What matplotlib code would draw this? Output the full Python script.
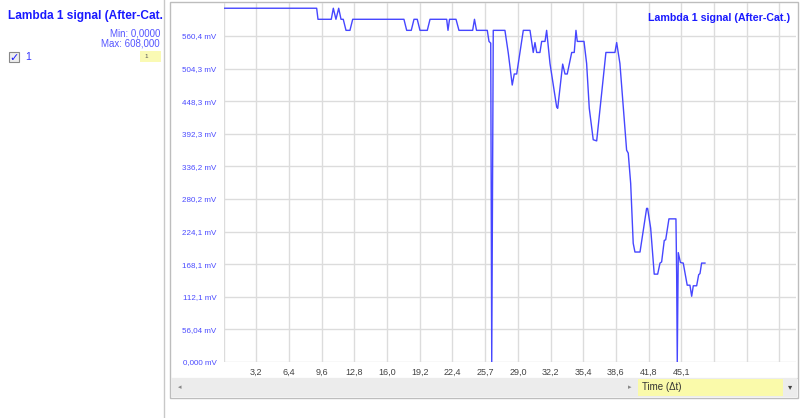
import matplotlib
matplotlib.use("Agg")
import matplotlib.pyplot as plt
from matplotlib.patches import Rectangle
from matplotlib.lines import Line2D

plt.rcParams['font.family'] = ['Liberation Sans', 'DejaVu Sans']

# ---- data (time in Δt units, signal in mV) ----
time = [0.00, 9.17, 9.30, 10.61, 10.81, 11.07, 11.34, 11.57, 11.79, 12.06, 12.45, 12.72,
        17.77, 18.04, 18.49, 18.76, 19.08, 19.35, 20.07, 20.34, 21.98, 22.11, 22.26, 22.90,
        23.19, 24.54, 24.72, 24.92, 25.98, 26.15, 26.32, 26.42, 26.57, 27.72, 28.05, 28.44,
        28.64, 28.88, 29.53, 30.19, 30.51, 30.68, 30.85, 31.17, 31.34, 31.67, 31.83, 32.16,
        32.82, 32.92, 33.41, 33.64, 33.86, 34.30, 34.55, 34.72, 34.85, 35.51, 35.77, 36.03,
        36.42, 36.76, 37.67, 38.56, 38.73, 39.05, 39.71, 39.87, 40.11, 40.36, 40.53, 41.03,
        41.68, 41.78, 42.08, 42.43, 42.77, 43.00, 43.16, 43.42, 43.56, 43.88, 44.57, 44.64,
        44.70, 44.80, 45.01, 45.29, 45.68, 45.95, 46.12, 46.28, 46.61, 46.81, 46.94, 47.10,
        47.43]
signal = [608, 608, 589, 589, 608, 589, 608, 589, 589, 570, 570, 589,
          589, 570, 570, 589, 589, 570, 570, 589, 589, 570, 589, 589,
          570, 570, 589, 570, 570, 551, 548, 0, 570, 570, 531, 476,
          495, 495, 570, 570, 532, 549, 532, 532, 551, 551, 570, 513,
          438, 436, 512, 495, 495, 532, 532, 570, 551, 551, 513, 436,
          382, 380, 532, 532, 549, 513, 364, 359, 307, 204, 189, 189,
          264, 264, 230, 151, 151, 170, 172, 209, 210, 246, 246, 153,
          0, 188, 171, 170, 132, 132, 113, 131, 131, 150, 152, 170,
          170]

y_tick_values = [0.0, 56.04, 112.08, 168.12, 224.16, 280.2, 336.24, 392.28, 448.32, 504.36, 560.4]
y_tick_labels = ["0,000 mV", "56,04 mV", "112,1 mV", "168,1 mV", "224,1 mV", "280,2 mV",
                 "336,2 mV", "392,3 mV", "448,3 mV", "504,3 mV", "560,4 mV"]
x_step = 3.2214
x_tick_labels = ["3,2", "6,4", "9,6", "12,8", "16,0", "19,2", "22,4", "25,7", "29,0",
                 "32,2", "35,4", "38,6", "41,8", "45,1", "", "", ""]

W, H = 800, 418
fig = plt.figure(figsize=(W / 100, H / 100), dpi=100)
fig.patch.set_facecolor("white")


def fx(x):
    return x / W


def fy(y):
    return 1 - y / H


def rect(x0, y0, x1, y1, fc, ec="none", lw=0.8, z=0):
    fig.patches.append(Rectangle((fx(x0), fy(y1)), fx(x1) - fx(x0), fy(y0) - fy(y1),
                                 transform=fig.transFigure, facecolor=fc, edgecolor=ec,
                                 linewidth=lw, zorder=z))


def hline(x0, x1, y, c, lw=1.0, z=1):
    fig.lines.append(Line2D([fx(x0), fx(x1)], [fy(y), fy(y)], transform=fig.transFigure,
                            color=c, linewidth=lw, zorder=z))


def vline(x, y0, y1, c, lw=1.0, z=1):
    fig.lines.append(Line2D([fx(x), fx(x)], [fy(y0), fy(y1)], transform=fig.transFigure,
                            color=c, linewidth=lw, zorder=z))


# ---- left panel ----
vline(164, 0, H, "#c8c8c8", 1.0)
fig.text(fx(8), fy(16), "Lambda 1 signal (After-Cat.", fontsize=8.6, fontweight="bold",
         color="#1a1aff", va="center", ha="left")
fig.text(fx(160), fy(33), "Min: 0,0000", fontsize=7, color="#5555ff", va="center", ha="right")
fig.text(fx(160), fy(44), "Max: 608,000", fontsize=7, color="#5555ff", va="center", ha="right")
rect(9, 52, 19, 62, "#eeeeee", "#888888", 0.8, 2)
fig.text(fx(14), fy(57.5), "✓", fontsize=8, color="#1a1aff", va="center", ha="center",
         family=['DejaVu Sans'], zorder=3)
fig.text(fx(25), fy(57), "1", fontsize=7.5, color="#3333ff", va="center", ha="left")
rect(140, 51, 161, 62, "#fafab4", "none", 0, 2)
fig.text(fx(144), fy(56), "1", fontsize=4.5, color="#555555", va="center", ha="left")

# ---- chart panel ----
rect(170, 2, 798, 398, "white", "#bdbdbd", 1.0, -5)
rect(171, 378, 797, 397, "#ececec", "none", 0, 1)
hline(171, 797, 378, "#d8d8d8", 0.8, 1)
fig.text(fx(180), fy(387), "◂", fontsize=5, color="#888888", va="center", ha="center",
         family=['DejaVu Sans'])
fig.text(fx(630), fy(387), "▸", fontsize=5, color="#888888", va="center", ha="center",
         family=['DejaVu Sans'])
rect(638, 379, 783, 396, "#fafaaa", "none", 0, 2)
fig.text(fx(642), fy(387.5), "Time (Δt)", fontsize=7, color="#333333", va="center",
         ha="left", zorder=3)
fig.text(fx(790), fy(387), "▾", fontsize=6, color="#444444", va="center", ha="center",
         family=['DejaVu Sans'])

ax = fig.add_axes([fx(223.6), fy(362), fx(796) - fx(223.6), fy(3) - fy(362)])
ax.set_zorder(2)
ax.set_facecolor("none")
ax.set_xlim(0, 56.4)
ax.set_ylim(0, 617)
for s in ax.spines.values():
    s.set_visible(False)

xt = [x_step * (i + 1) for i in range(len(x_tick_labels))]
ax.set_xticks(xt)
ax.set_xticklabels(x_tick_labels)
ax.set_yticks(y_tick_values)
ax.set_yticklabels(y_tick_labels)
ax.tick_params(axis="x", length=0, pad=4, labelsize=6.5, labelcolor="#444444")
ax.tick_params(axis="y", length=0, pad=5, labelsize=5.8, labelcolor="#4a4aff")
ax.grid(True, color="#dcdcdc", linewidth=1.0)
ax.axvline(0, color="#dcdcdc", linewidth=1.0, zorder=0.5)
ax.set_axisbelow(True)

ax.plot(time, signal, color="#4646ff", linewidth=1.0, zorder=3)

ax.text(0.9895, 0.958, "Lambda 1 signal (After-Cat.)", transform=ax.transAxes, ha="right",
        va="center", fontsize=7.7, fontweight="bold", color="#1a1aff")

fig.savefig("out.png", dpi=100)
